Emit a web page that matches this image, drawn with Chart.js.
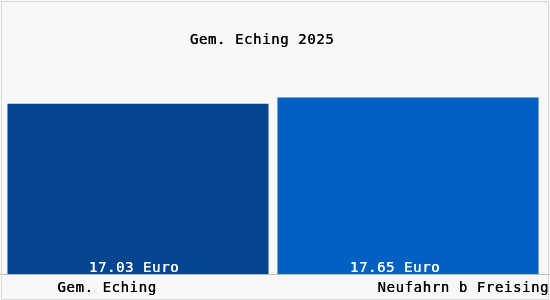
<!DOCTYPE html>
<html>
<head>
<meta charset="utf-8">
<script src="https://cdn.jsdelivr.net/npm/chart.js@4"></script>
<style>
    html, body { margin: 0; padding: 0; background: #f8f8f8; }
    #wrap { width: 550px; height: 300px; position: relative; }
</style>
</head>
<body>
<div id="wrap"><canvas id="chart"></canvas></div>
<script>
const chartTitle = 'Gem. Eching 2025';
const places = ['Gem. Eching', 'Neufahrn b Freising'];
const prices = [17.03, 17.65];
const barColors = ['#03468f', '#0061c3'];
const unit = 'Euro';

const monoFont = '14px "DejaVu Sans Mono", monospace';
// text sitzt im original nicht ganz mittig im balken
const valueShift = [-4, -13];

// titel, werte in den balken, beschriftung unten, rahmen
const decorations = {
    id: 'decorations',
    beforeDraw(chart) {
        const ctx = chart.ctx;
        ctx.save();
        ctx.fillStyle = '#f8f8f8';
        ctx.fillRect(0, 0, chart.width, chart.height);
        ctx.restore();
    },
    afterDraw(chart) {
        const ctx = chart.ctx;
        const area = chart.chartArea;
        const meta = chart.getDatasetMeta(0);
        ctx.save();
        ctx.font = monoFont;
        ctx.letterSpacing = '0.6px';
        ctx.textBaseline = 'alphabetic';

        // titel
        ctx.fillStyle = '#000';
        ctx.textAlign = 'center';
        ctx.fillText(chartTitle, 262, 44);
        ctx.fillText(chartTitle, 262.4, 44);

        // werte
        ctx.fillStyle = '#fff';
        meta.data.forEach((bar, i) => {
            const txt = prices[i].toFixed(2) + ' ' + unit;
            ctx.fillText(txt, bar.x + valueShift[i], 272);
            ctx.fillText(txt, bar.x + valueShift[i] + 0.3, 272);
        });

        // grundlinie
        ctx.strokeStyle = '#bbbbbb';
        ctx.lineWidth = 1;
        ctx.beginPath();
        ctx.moveTo(0, area.bottom + 0.5);
        ctx.lineTo(chart.width, area.bottom + 0.5);
        ctx.stroke();

        // ortsnamen
        ctx.fillStyle = '#000';
        ctx.textAlign = 'center';
        ctx.fillText(places[0], 107, 292);
        ctx.fillText(places[0], 107.3, 292);
        ctx.textAlign = 'right';
        ctx.fillText(places[1], chart.width - 1, 292);
        ctx.fillText(places[1], chart.width - 0.7, 292);

        // rahmen
        ctx.strokeStyle = '#d8d8d8';
        ctx.strokeRect(1.5, 1.5, chart.width - 3, chart.height - 2);
        ctx.restore();
    }
};

const ctx = document.getElementById('chart').getContext('2d');
new Chart(ctx, {
    type: 'bar',
    data: {
        labels: places,
        datasets: [{
            data: prices,
            backgroundColor: barColors,
            borderWidth: 0,
            barPercentage: 0.967,
            categoryPercentage: 1.0
        }]
    },
    options: {
        responsive: true,
        maintainAspectRatio: false,
        animation: false,
        layout: {
            padding: { left: 3, right: 7, top: 74, bottom: 26 }
        },
        plugins: {
            legend: { display: false },
            title: { display: false },
            tooltip: { enabled: false }
        },
        scales: {
            x: { display: false },
            y: { display: false, min: 0, max: 20 }
        }
    },
    plugins: [decorations]
});
</script>
</body>
</html>
